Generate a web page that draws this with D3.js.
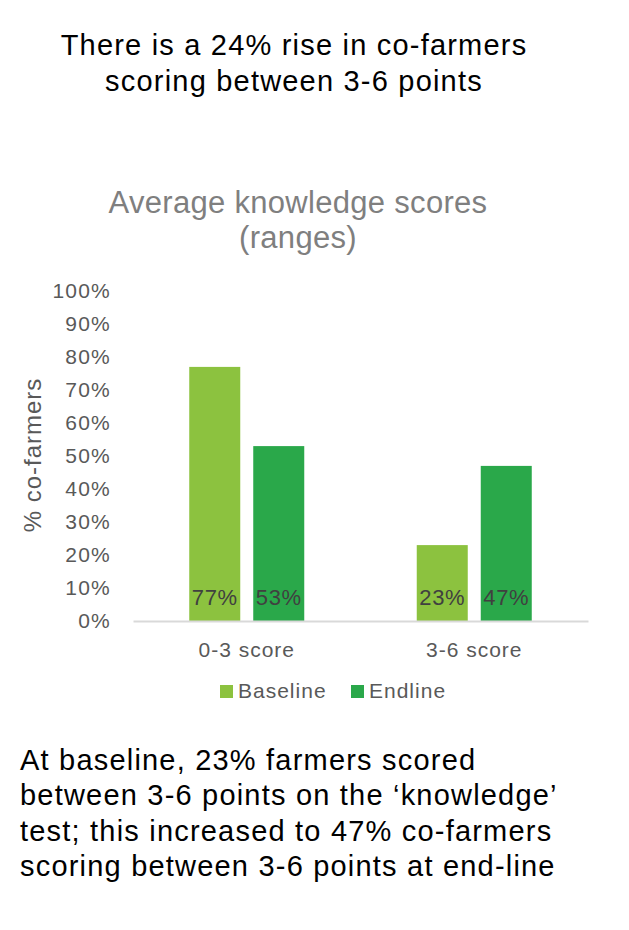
<!DOCTYPE html>
<html lang="en">
<head>
    <meta charset="UTF-8">
    <script src="https://d3js.org/d3.v7.min.js"></script>
    <title>Average knowledge scores</title>
    <style>
        body { margin: 0; background: #fff; }
        text { font-family: "Liberation Sans", Arial, sans-serif; }
    </style>
</head>
<body>
    <svg width="629" height="930" id="chart"></svg>
    <script>

        // data
        const categories = ["0-3 score", "3-6 score"];
        const series = ["Baseline", "Endline"];
        const baseline = [0.77, 0.23];
        const endline = [0.53, 0.47];
        const yTicks = [0, 0.1, 0.2, 0.3, 0.4, 0.5, 0.6, 0.7, 0.8, 0.9, 1];
        const colors = ["#8cc23f", "#2aa84a"];

        const headline = ["There is a 24% rise in co-farmers", "scoring between 3-6 points"];
        const chartTitle = ["Average knowledge scores", "(ranges)"];
        const footnote = [
            "At baseline, 23% farmers scored",
            "between 3-6 points on the \u2018knowledge\u2019",
            "test; this increased to 47% co-farmers",
            "scoring between 3-6 points at end-line"
        ];

        let svg = d3.select("#chart");

        // headline
        svg.append("text")
            .attr("x", 294)
            .attr("y", 55)
            .attr("text-anchor", "middle")
            .attr("style", "font-size: 29px; letter-spacing: 1.2px; fill: #000;")
            .selectAll("tspan")
            .data(headline)
            .join("tspan")
            .attr("x", 294)
            .attr("dy", (d, i) => i == 0 ? 0 : 36)
            .text(d => d);

        // chart title
        svg.append("text")
            .attr("x", 298)
            .attr("y", 213)
            .attr("text-anchor", "middle")
            .attr("style", "font-size: 31px; letter-spacing: 0.3px; fill: #7f7f7f;")
            .selectAll("tspan")
            .data(chartTitle)
            .join("tspan")
            .attr("x", 298)
            .attr("dy", (d, i) => i == 0 ? 0 : 35)
            .text(d => d);

        let y = d3.scaleLinear().domain([0, 1]).range([621, 291]);

        let x0 = d3.scaleBand()
            .domain(categories)
            .range([133, 588])
            .paddingInner(0.4945)
            .paddingOuter(0.24725);

        let x1 = d3.scaleBand()
            .domain(series)
            .range([0, x0.bandwidth()])
            .paddingInner(0.203);

        // y axis, labels only
        let yAxis = svg.append("g")
            .attr("transform", "translate(133,0)")
            .call(d3.axisLeft(y).tickValues(yTicks).tickFormat(d3.format(".0%")).tickSize(0).tickPadding(22));
        yAxis.select(".domain").remove();
        yAxis.selectAll("text")
            .attr("style", "font-size: 21px; letter-spacing: 1.2px; fill: #595959;");

        // y axis label
        svg.append("text")
            .attr("transform", "translate(41,455) rotate(-90)")
            .attr("text-anchor", "middle")
            .attr("style", "font-size: 24px; letter-spacing: 1px; fill: #595959;")
            .text("% co-farmers");

        // bars
        let rows = categories.map((c, i) => ({ cat: c, vals: [baseline[i], endline[i]] }));

        let groups = svg.append("g")
            .selectAll("g")
            .data(rows)
            .join("g")
            .attr("transform", d => `translate(${x0(d.cat)},0)`);

        groups.selectAll("rect")
            .data(d => d.vals.map((v, j) => ({ s: series[j], v: v, j: j })))
            .join("rect")
            .attr("x", d => x1(d.s))
            .attr("width", x1.bandwidth())
            .attr("y", d => y(d.v))
            .attr("height", d => y(0) - y(d.v))
            .attr("fill", d => colors[d.j]);

        // value labels at the foot of each bar
        groups.selectAll("text.val")
            .data(d => d.vals.map((v, j) => ({ s: series[j], v: v })))
            .join("text")
            .attr("class", "val")
            .attr("x", d => x1(d.s) + x1.bandwidth() / 2)
            .attr("y", y(0.05) + 0.4)
            .attr("text-anchor", "middle")
            .attr("style", "font-size: 22px; letter-spacing: 0.6px; fill: #404040;")
            .text(d => d3.format(".0%")(d.v));

        // x axis
        let xAxis = svg.append("g")
            .attr("transform", "translate(0,621)")
            .call(d3.axisBottom(x0).tickSize(0).tickSizeOuter(0).tickPadding(21));
        xAxis.select(".domain")
            .attr("style", "stroke: #d9d9d9; stroke-width: 2");
        xAxis.selectAll("text")
            .attr("style", "font-size: 21px; letter-spacing: 1px; fill: #595959;");

        // legend
        let legendX = [220, 351];
        let legend = svg.append("g")
            .selectAll("g")
            .data(series)
            .join("g")
            .attr("transform", (d, i) => `translate(${legendX[i]},685)`);
        legend.append("rect")
            .attr("width", 13)
            .attr("height", 13)
            .attr("fill", (d, i) => colors[i]);
        legend.append("text")
            .attr("x", 18)
            .attr("y", 13)
            .attr("style", "font-size: 21px; letter-spacing: 1px; fill: #595959;")
            .text(d => d);

        // footnote
        svg.append("text")
            .attr("x", 20)
            .attr("y", 770)
            .attr("style", "font-size: 29px; letter-spacing: 1.2px; fill: #000;")
            .selectAll("tspan")
            .data(footnote)
            .join("tspan")
            .attr("x", 20)
            .attr("dy", (d, i) => i == 0 ? 0 : 35.3)
            .text(d => d);

    </script>
</body>
</html>
